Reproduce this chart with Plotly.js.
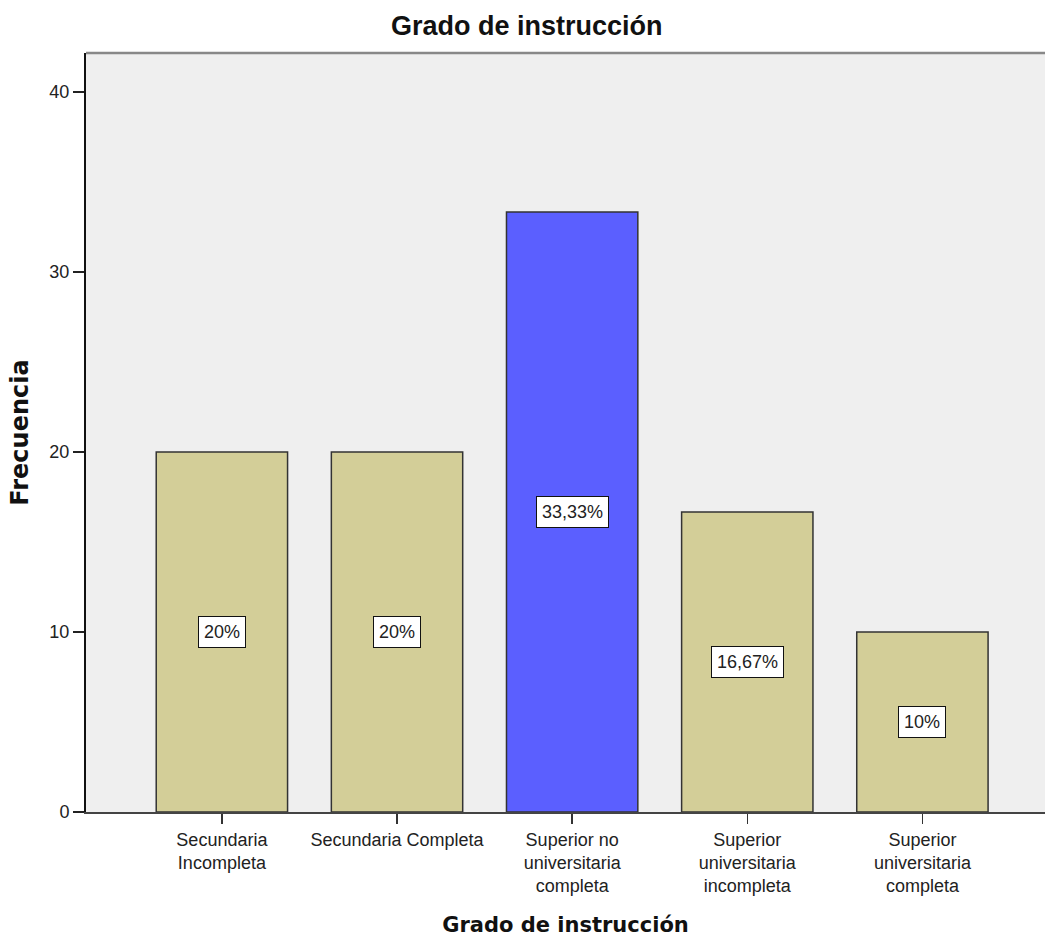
<!DOCTYPE html>
<html>
<head>
<meta charset="utf-8">
<script src="https://cdn.plot.ly/plotly-3.0.1.min.js"></script>
<style>html,body{margin:0;padding:0;background:#fff;}#chart{width:1045px;height:940px;}</style>
</head>
<body>
<div id="chart"></div>
<script>
const categories = ["Secundaria Incompleta", "Secundaria Completa", "Superior no universitaria completa", "Superior universitaria incompleta", "Superior universitaria completa"];
const tickLabels = ["Secundaria<br>Incompleta", "Secundaria Completa", "Superior no<br>universitaria<br>completa", "Superior<br>universitaria<br>incompleta", "Superior<br>universitaria<br>completa"];
const frequencies = [20, 20, 33.33, 16.67, 10];
const percentLabels = ["20%", "20%", "33,33%", "16,67%", "10%"];
const barColors = ["#D3CE98", "#D3CE98", "#5B5FFF", "#D3CE98", "#D3CE98"];

const trace = {
  type: "bar",
  x: categories,
  y: frequencies,
  width: 0.75,
  marker: {color: barColors, line: {color: "#333333", width: 1.5}},
  hoverinfo: "x+y"
};

const annotations = categories.map((c, i) => ({
  x: c, y: frequencies[i] / 2, xref: "x", yref: "y",
  text: percentLabels[i], showarrow: false,
  font: {family: "Liberation Sans, Arial, sans-serif", size: 18, color: "#222"},
  bgcolor: "#ffffff", bordercolor: "#111", borderwidth: 1, borderpad: 5
}));

const layout = {
  width: 1045, height: 940,
  margin: {l: 86, r: 0, t: 53, b: 128},
  paper_bgcolor: "#ffffff",
  plot_bgcolor: "#EFEFEF",
  showlegend: false,
  font: {family: "Liberation Sans, Arial, sans-serif", size: 18, color: "#222"},
  title: {
    text: "<b>Grado de instrucción</b>",
    font: {family: "Liberation Sans, Arial, sans-serif", size: 27, color: "#111"},
    xref: "container", x: 0.504, xanchor: "center",
    yref: "container", y: 1 - 26/940, yanchor: "middle"
  },
  xaxis: {
    type: "category",
    range: [-0.776, 4.70],
    tickvals: categories,
    ticktext: tickLabels,
    ticks: "outside", ticklen: 10, tickwidth: 1.5, tickcolor: "#333",
    showline: true, linecolor: "#444", linewidth: 2,
    showgrid: false, zeroline: false,
    tickfont: {family: "Liberation Sans, Arial, sans-serif", size: 18, color: "#222"},
    title: {
      text: "<b>Grado de instrucción</b>",
      font: {family: "DejaVu Sans, sans-serif", size: 21, color: "#111"},
      standoff: 22
    },
    automargin: false
  },
  yaxis: {
    range: [0, 42.17],
    tickvals: [0, 10, 20, 30, 40],
    ticks: "outside", ticklen: 11, tickwidth: 1.5, tickcolor: "#222",
    showline: true, linecolor: "#111", linewidth: 2,
    showgrid: false, zeroline: false,
    tickfont: {family: "Liberation Sans, Arial, sans-serif", size: 18, color: "#222"},
    title: {
      text: "<b>Frecuencia</b>",
      font: {family: "DejaVu Sans, sans-serif", size: 24, color: "#111"},
      standoff: 14
    },
    automargin: false
  },
  shapes: [{
    type: "line", xref: "paper", yref: "paper", x0: 0, x1: 1, y0: 1, y1: 1,
    line: {color: "#888", width: 2.5}
  }],
  annotations: annotations
};

Plotly.newPlot("chart", [trace], layout, {displayModeBar: false, staticPlot: true});
</script>
</body>
</html>
